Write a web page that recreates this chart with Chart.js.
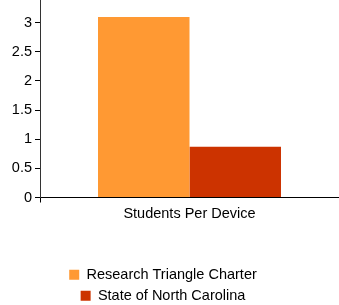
<!DOCTYPE html>
<html>
<head>
<meta charset="utf-8">
<script src="https://cdn.jsdelivr.net/npm/chart.js@4/dist/chart.umd.min.js"></script>
<style>
  html, body { margin: 0; padding: 0; background: #ffffff; }
  #wrap { width: 339px; height: 305px; position: relative; }
</style>
</head>
<body>
<div id="wrap"><canvas id="c"></canvas></div>
<script>
const categories = ["Students Per Device"];
const seriesNames = ["Research Triangle Charter", "State of North Carolina"];
const researchTriangle = [3.1];
const northCarolina = [0.87];
const seriesColors = ["#FF9933", "#CC3300"];
const yTickValues = [0, 0.5, 1, 1.5, 2, 2.5, 3];

const legendShift = {
  id: 'legendShift',
  afterLayout(chart) {
    const lg = chart.legend;
    if (lg) { lg.left -= 8; lg.right -= 8; lg.top += 8; lg.bottom += 8; }
  }
};

const FONT = 'Liberation Sans, Arial, sans-serif';

new Chart(document.getElementById('c'), {
  type: 'bar',
  data: {
    labels: categories,
    datasets: [
      { label: seriesNames[0], data: researchTriangle, backgroundColor: seriesColors[0] },
      { label: seriesNames[1], data: northCarolina, backgroundColor: seriesColors[1] }
    ]
  },
  options: {
    responsive: true,
    maintainAspectRatio: false,
    animation: false,
    layout: { padding: { top: 0, left: 0, right: -3, bottom: 0 } },
    datasets: { bar: { categoryPercentage: 0.612, barPercentage: 1.0 } },
    plugins: {
      tooltip: { enabled: false },
      legend: {
        position: 'bottom',
        labels: {
          boxWidth: 10, boxHeight: 10, padding: 6.5,
          color: '#000000',
          font: { family: FONT, size: 14.5 }
        }
      }
    },
    scales: {
      x: {
        offset: true,
        grid: { display: true, drawOnChartArea: false, tickLength: 5, color: '#000000' },
        border: { display: true, color: '#000000', width: 1 },
        ticks: { color: '#000000', padding: 3, font: { family: FONT, size: 14.5 } },
        afterFit(scale) { scale.height = 55.5; scale.paddingLeft = 0; scale.paddingRight = 0; }
      },
      y: {
        min: 0,
        max: 3.39,
        grid: { display: true, drawOnChartArea: false, tickLength: 5, color: '#000000' },
        border: { display: true, color: '#333333', width: 1 },
        afterBuildTicks(scale) { scale.ticks = yTickValues.map(v => ({ value: v })); },
        ticks: {
          color: '#000000', padding: 3,
          font: { family: FONT, size: 14.5 },
          callback: (v) => String(v)
        },
        afterFit(scale) { scale.width = 40; scale.paddingTop = 0; scale.paddingBottom = 0; }
      }
    }
  },
  plugins: [legendShift]
});
</script>
</body>
</html>
